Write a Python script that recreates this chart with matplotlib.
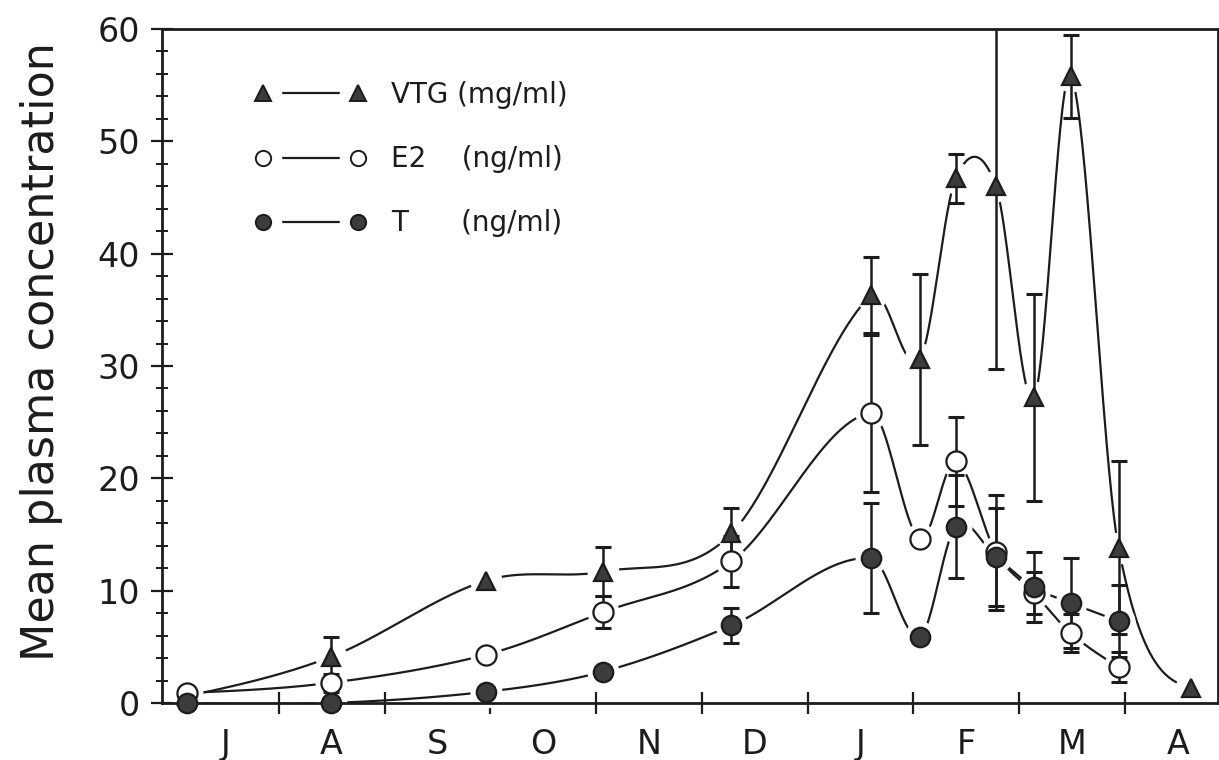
import numpy as np
import matplotlib
matplotlib.use("Agg")
import matplotlib.pyplot as plt
from matplotlib.lines import Line2D
from matplotlib.legend_handler import HandlerTuple

plt.rcParams["font.family"] = ["DejaVu Sans"]

# sampling dates, in months from 1 July
months_x = [0.13, 1.49, 2.96, 4.07, 5.28, 6.60, 7.06, 7.40, 7.78, 8.14, 8.49, 8.94, 9.62]

vtg     = [0.6, 4.1, 10.9, 11.7, 15.1, 36.3, 30.6, 46.7, 46.0, 27.2, 55.8, 13.8, 1.3]
vtg_err = [0.0, 1.8, 0.0, 2.2, 2.3, 3.4, 7.6, 2.2, 16.3, 9.2, 3.7, 7.7, 0.0]
e2      = [0.9, 1.8, 4.3, 8.1, 12.6, 25.8, 14.6, 21.5, 13.4, 9.8, 6.2, 3.2]
e2_err  = [0.0, 0.8, 0.0, 1.4, 2.3, 7.0, 0.0, 4.0, 5.1, 1.9, 1.7, 1.3]
t_conc  = [0.0, 0.0, 1.0, 2.8, 6.9, 12.9, 5.9, 15.7, 13.0, 10.3, 8.9, 7.3]
t_err   = [0.0, 0.0, 0.0, 0.0, 1.6, 4.9, 0.0, 4.6, 4.4, 3.1, 4.0, 3.2]

month_labels = ["J", "A", "S", "O", "N", "D", "J", "F", "M", "A"]
legend_labels = ["VTG (mg/ml)", "E2    (ng/ml)", "T      (ng/ml)"]

INK = "#1c1c1c"
FILL = "#3c3c3c"


def smooth_curve(x, y, n=60):
    # Catmull-Rom style cubic Hermite through the points
    x = np.asarray(x, float)
    y = np.asarray(y, float)
    h = np.diff(x)
    d = np.diff(y) / h
    m = np.empty_like(y)
    m[1:-1] = (y[2:] - y[:-2]) / (x[2:] - x[:-2])
    m[0] = 1.5 * d[0] - 0.5 * m[1]
    m[-1] = 1.5 * d[-1] - 0.5 * m[-2]
    xs, ys = [], []
    for i in range(len(x) - 1):
        s = np.linspace(0, 1, n)
        h00 = 2 * s ** 3 - 3 * s ** 2 + 1
        h10 = s ** 3 - 2 * s ** 2 + s
        h01 = -2 * s ** 3 + 3 * s ** 2
        h11 = s ** 3 - s ** 2
        xs.append(x[i] + s * h[i])
        ys.append(h00 * y[i] + h10 * h[i] * m[i] + h01 * y[i + 1] + h11 * h[i] * m[i + 1])
    return np.concatenate(xs), np.concatenate(ys)


fig = plt.figure(figsize=(12.19, 7.6), dpi=100)
ax = fig.add_axes([0.1329, 0.075, 0.8663, 0.8868])

series = [
    (vtg, vtg_err, "^", FILL, 13),
    (e2, e2_err, "o", "white", 14.5),
    (t_conc, t_err, "o", FILL, 14),
]

for i, (vals, errs, mk, fc, ms) in enumerate(series):
    xv = np.array(months_x[:len(vals)])
    yv = np.array(vals)
    ev = np.array(errs)
    cx, cy = smooth_curve(xv, yv)
    ax.plot(cx, cy, color=INK, lw=1.6, zorder=1.5)
    # white halo so the curves stop short of the symbols
    ax.plot(xv, yv, ls="none", marker="o", ms=22, mfc="white", mec="white",
            zorder=2, clip_on=False)
    m = ev > 0
    ax.errorbar(xv[m], yv[m], yerr=ev[m], fmt="none", ecolor=INK,
                elinewidth=1.8, capsize=6, capthick=2.2, zorder=3)
    ax.plot(xv, yv, ls="none", marker=mk, ms=ms, mfc=fc, mec=INK, mew=1.6,
            zorder=4 + i, clip_on=False)

ax.set_xlim(-0.104, 9.88)
ax.set_ylim(0, 60)

ax.set_yticks(np.arange(0, 61, 10))
ax.set_yticks(np.arange(0, 61, 2), minor=True)
ax.set_xticks(np.arange(1, 10))
ax.set_xticklabels([])
ax.set_xticks(np.arange(10) + 0.5, minor=True)
ax.set_xticklabels(month_labels, minor=True)

ax.tick_params(axis="y", which="major", direction="inout", length=16, width=1.6,
               labelsize=24, pad=8, colors=INK)
ax.tick_params(axis="y", which="minor", direction="inout", length=8, width=1.4,
               colors=INK)
ax.tick_params(axis="x", which="major", direction="inout", length=16, width=1.6,
               colors=INK)
ax.tick_params(axis="x", which="minor", length=0, labelsize=24, pad=18,
               colors=INK)

for sp in ax.spines.values():
    sp.set_linewidth(2)
    sp.set_color(INK)

ax.set_ylabel("Mean plasma concentration", fontsize=32, color=INK)
ax.yaxis.set_label_coords(-0.094, 0.522)

handles = []
for vals, errs, mk, fc, ms in series:
    line = Line2D([], [], color=INK, lw=1.6)
    halo = Line2D([], [], ls="none", marker="o", ms=26, mfc="white", mec="white")
    mark = Line2D([], [], ls="none", marker=mk, ms=11, mfc=fc, mec=INK, mew=1.4)
    handles.append((line, halo, mark))

ax.legend(handles, legend_labels,
          handler_map={tuple: HandlerTuple(ndivide=1, pad=0)},
          loc="upper left", bbox_to_anchor=(0.088, 0.9226), frameon=False,
          numpoints=2, handlelength=4.0, handletextpad=0.9, labelspacing=1.3,
          borderpad=0, borderaxespad=0, fontsize=20, labelcolor=INK)

fig.savefig("out.png", dpi=100)
